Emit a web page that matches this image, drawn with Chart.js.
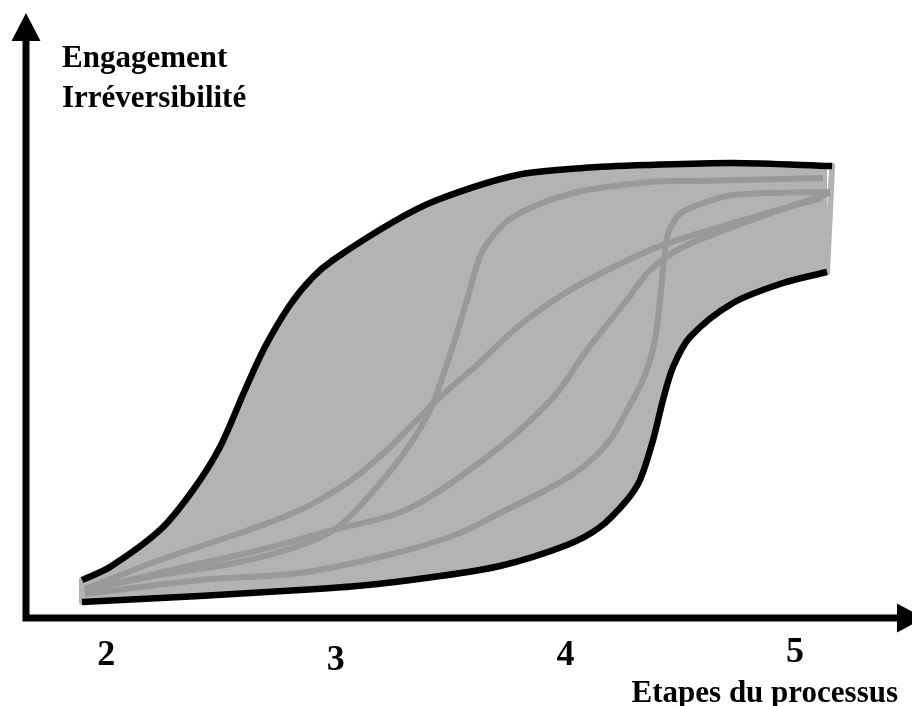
<!DOCTYPE html>
<html lang="fr">
<head>
<meta charset="utf-8">
<script src="https://cdn.jsdelivr.net/npm/chart.js@4.4.1/dist/chart.umd.min.js"></script>
<style>
  html, body { margin: 0; padding: 0; background: #fff; }
  canvas { display: block; }
</style>
</head>
<body>
<canvas id="graph" width="912" height="706"></canvas>
<script>
// stages of the process on the horizontal axis
const stageTicks = [2, 3, 4, 5];
const stageLabels = ['2', '3', '4', '5'];
const stageDrop = [0, 5, 0, -3];

// engagement envelope: [stage, engagement %]
const upperEdge = [
  [1.894, 6.28], [2.016, 8.43], [2.234, 14.55], [2.378, 21.16], [2.495, 28.26],
  [2.604, 37.69], [2.691, 44.79], [2.800, 51.74], [2.900, 56.36], [2.988, 59.17],
  [3.249, 65.45], [3.441, 69.09], [3.789, 73.22], [4.077, 74.38], [4.369, 74.88],
  [4.730, 75.21], [5.162, 74.71]
];
const lowerEdge = [
  [1.894, 2.64], [2.408, 3.64], [2.844, 4.63], [3.105, 5.32], [3.423, 6.78],
  [3.715, 8.60], [4.007, 12.07], [4.151, 15.04], [4.268, 19.50], [4.325, 22.81],
  [4.382, 29.42], [4.425, 36.03], [4.469, 41.49], [4.543, 46.45], [4.730, 52.07],
  [4.948, 55.37], [5.140, 57.19]
];

// individual trajectories inside the envelope
const pathA = [
  [1.907, 4.79], [2.234, 7.11], [2.582, 9.26], [2.874, 12.40], [3.031, 15.70],
  [3.223, 23.64], [3.336, 29.42], [3.410, 34.38], [3.475, 40.99], [3.532, 47.60],
  [3.571, 52.56], [3.641, 60.83], [3.772, 66.28], [4.033, 70.25], [4.369, 72.07],
  [4.586, 72.23], [5.122, 72.73]
];
const pathB = [
  [1.907, 4.79], [2.234, 9.59], [2.595, 14.21], [2.844, 17.85], [3.062, 22.64],
  [3.223, 27.77], [3.353, 32.73], [3.454, 36.53], [3.615, 41.82], [3.802, 48.43],
  [4.020, 54.21], [4.369, 60.83], [4.586, 63.64], [4.878, 66.94], [5.118, 69.42]
];
const pathC = [
  [1.907, 4.46], [2.321, 8.26], [2.669, 11.24], [2.988, 14.55], [3.249, 17.02],
  [3.410, 20.00], [3.641, 26.12], [3.802, 31.07], [3.963, 37.19], [4.094, 44.30],
  [4.268, 52.56], [4.369, 57.52], [4.512, 61.32], [4.730, 64.63], [5.022, 68.60],
  [5.153, 70.25]
];
const pathD = [
  [1.907, 3.97], [2.408, 6.28], [2.844, 7.44], [3.279, 10.91], [3.541, 14.05],
  [3.715, 17.36], [3.933, 21.49], [4.077, 24.96], [4.194, 29.42], [4.281, 35.21],
  [4.347, 40.17], [4.390, 45.95], [4.412, 52.56], [4.430, 59.17], [4.443, 62.98],
  [4.486, 66.28], [4.543, 67.77], [4.730, 69.92], [5.153, 70.41]
];

const FILL = '#b3b3b3';
const TRACE = '#999999';
const SERIF = '"Liberation Serif", "Times New Roman", serif';

const toPoints = pts => pts.map(([x, y]) => ({x, y}));

function curve(pts, color, width, extra) {
  return Object.assign({
    data: toPoints(pts),
    borderColor: color,
    borderWidth: width,
    showLine: true,
    fill: false,
    pointRadius: 0,
    tension: 0.3,
    borderCapStyle: 'butt',
    borderJoinStyle: 'round'
  }, extra || {});
}

const first = a => a[0];
const last = a => a[a.length - 1];

// axes with arrow heads and the text around them
const axes = {
  id: 'axes',
  afterDraw(chart) {
    const {ctx, chartArea: {left, right, top, bottom}, scales: {x}} = chart;
    ctx.save();
    ctx.fillStyle = '#000';
    ctx.strokeStyle = '#000';
    ctx.lineWidth = 7;
    ctx.lineCap = 'butt';
    ctx.beginPath();
    ctx.moveTo(left, bottom + 3.5);
    ctx.lineTo(left, top + 26);
    ctx.moveTo(left - 3.5, bottom);
    ctx.lineTo(right - 14, bottom);
    ctx.stroke();

    ctx.beginPath();
    ctx.moveTo(left, top);
    ctx.lineTo(left - 14.5, top + 28);
    ctx.lineTo(left + 14.5, top + 28);
    ctx.closePath();
    ctx.moveTo(right + 12, bottom);
    ctx.lineTo(right - 15, bottom - 14.5);
    ctx.lineTo(right - 15, bottom + 14.5);
    ctx.closePath();
    ctx.fill();

    ctx.font = 'bold 31px ' + SERIF;
    ctx.textBaseline = 'alphabetic';
    ctx.textAlign = 'left';
    ctx.fillText('Engagement', left + 36, top + 54);
    ctx.fillText('Irréversibilité', left + 36, top + 94);
    ctx.textAlign = 'right';
    ctx.fillText('Etapes du processus', right - 14, bottom + 84);

    ctx.font = 'bold 36px ' + SERIF;
    ctx.textAlign = 'center';
    stageTicks.forEach((v, i) => {
      ctx.fillText(stageLabels[i], x.getPixelForValue(v), bottom + 47 + stageDrop[i]);
    });
    ctx.restore();
  }
};

new Chart(document.querySelector('#graph'), {
  type: 'scatter',
  data: {
    datasets: [
      curve(upperEdge, '#000', 6.5, {fill: '+1', backgroundColor: FILL}),
      curve(lowerEdge, '#000', 6.5),
      curve(pathA, TRACE, 6),
      curve(pathB, TRACE, 6),
      curve(pathC, TRACE, 6),
      curve(pathD, TRACE, 6),
      curve([first(upperEdge), first(lowerEdge)], FILL, 6, {tension: 0, borderCapStyle: 'round'}),
      curve([last(upperEdge), last(lowerEdge)], FILL, 6, {tension: 0, borderCapStyle: 'round'})
    ]
  },
  options: {
    responsive: false,
    animation: false,
    events: [],
    layout: { padding: { left: 26, right: 0, top: 13, bottom: 88 } },
    scales: {
      x: { type: 'linear', min: 1.65, max: 5.51, display: false },
      y: { type: 'linear', min: 0, max: 100, display: false }
    },
    plugins: {
      legend: { display: false },
      tooltip: { enabled: false },
      filler: { drawTime: 'beforeDatasetsDraw' }
    }
  },
  plugins: [axes]
});
</script>
</body>
</html>
